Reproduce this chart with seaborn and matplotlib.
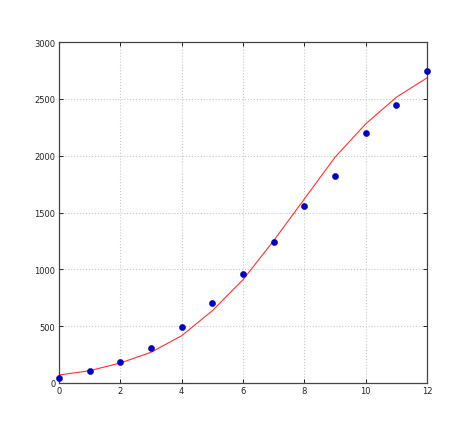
import numpy as np
import pandas as pd
import matplotlib
matplotlib.use("Agg")
import matplotlib.pyplot as plt
import seaborn as sns

# observed values (dots) and fitted curve (red line)
x_vals = [0, 1, 2, 3, 4, 5, 6, 7, 8, 9, 10, 11, 12]
observed = [45, 105, 187, 311, 493, 707, 959, 1241, 1560, 1824, 2199, 2443, 2742]
fitted = [70, 108, 176, 270, 416, 636, 909, 1252, 1619, 1986, 2279, 2514, 2684]

df = pd.DataFrame({"x": x_vals, "observed": observed, "fitted": fitted})

sns.set_theme(style="ticks", rc={
    "axes.edgecolor": "#444444",
    "axes.linewidth": 0.9,
    "axes.grid": True,
    "grid.color": "#c8c8c8",
    "grid.linestyle": ":",
    "grid.linewidth": 0.8,
    "xtick.direction": "in",
    "ytick.direction": "in",
    "xtick.top": True,
    "ytick.right": True,
    "xtick.major.size": 3,
    "ytick.major.size": 3,
    "xtick.major.width": 0.7,
    "ytick.major.width": 0.7,
    "xtick.labelsize": 6,
    "ytick.labelsize": 6,
    "xtick.color": "#222222",
    "ytick.color": "#222222",
})
plt.rcParams["font.family"] = ["DejaVu Sans"]

fig = plt.figure(figsize=(4.74, 4.27), dpi=100)
ax = fig.add_axes([59 / 474, 1 - 384 / 427, (427 - 59) / 474, (384 - 43) / 427])

sns.lineplot(data=df, x="x", y="fitted", color="#ff3030", linewidth=0.8, ax=ax)
sns.scatterplot(data=df, x="x", y="observed", color="#0000c8", edgecolor="#000070",
                linewidth=0.3, s=20, ax=ax, zorder=3, clip_on=False)

ax.set_xlim(0, 12)
ax.set_ylim(0, 3000)
ax.set_xticks(range(0, 13, 2))
ax.set_yticks(range(0, 3001, 500))
ax.set_xlabel("")
ax.set_ylabel("")
ax.tick_params(pad=2.5)

fig.savefig("out.png", dpi=100)
